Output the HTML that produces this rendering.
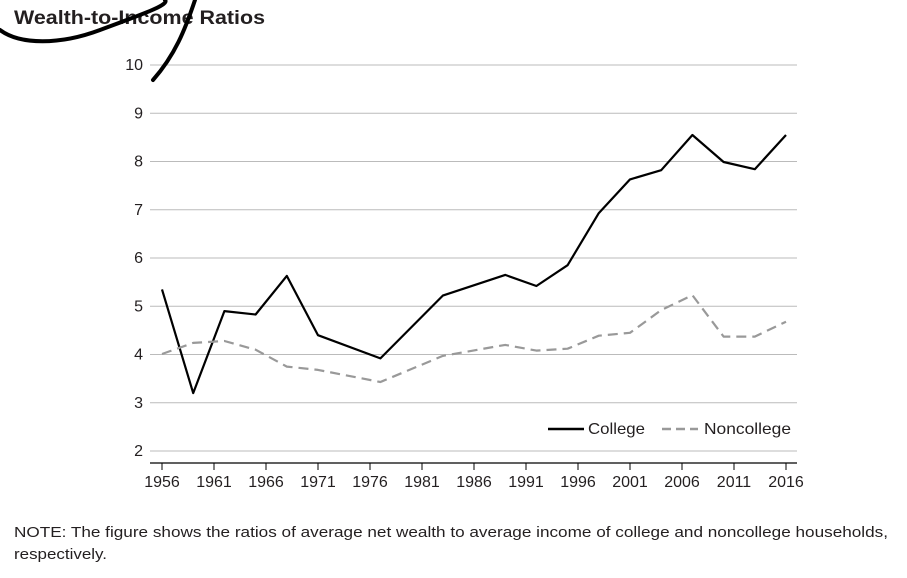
<!DOCTYPE html>
<html><head><meta charset="utf-8"><style>
body{margin:0;background:#fff;width:907px;height:578px;overflow:hidden;font-family:"Liberation Sans",sans-serif}
svg{position:absolute;left:0;top:0}
</style></head><body>
<svg width="907" height="578" id="c">
<text x="14" y="24" font-size="19" font-weight="bold" fill="#231f20" textLength="251" lengthAdjust="spacingAndGlyphs">Wealth-to-Income Ratios</text>
<g id="grid"></g><g id="axis"></g><g id="lines"></g>
<g>
<line x1="548" y1="429" x2="584" y2="429" stroke="#000" stroke-width="2.5"/>
<text x="588" y="434" font-size="16" fill="#231f20" textLength="57" lengthAdjust="spacingAndGlyphs">College</text>
<line x1="662" y1="429" x2="698" y2="429" stroke="#999" stroke-width="2.5" stroke-dasharray="9,5"/>
<text x="704" y="434" font-size="16" fill="#231f20" textLength="87" lengthAdjust="spacingAndGlyphs">Noncollege</text>
</g>
<text x="14" y="537" font-size="15" fill="#231f20" textLength="874" lengthAdjust="spacingAndGlyphs">NOTE: The figure shows the ratios of average net wealth to average income of college and noncollege households,</text>
<text x="14" y="559" font-size="15" fill="#231f20" textLength="93" lengthAdjust="spacingAndGlyphs">respectively.</text>
<path d="M0,30 C20,45 60,45 100,30 C140,15 170,5 165,0 M153,80 C175,55 185,30 195,0" stroke="#000" stroke-width="4" fill="none" stroke-linecap="round"/>
</svg>
<script>
const years=[1956,1959,1962,1965,1968,1971,1977,1983,1989,1992,1995,1998,2001,2004,2007,2010,2013,2016];
const college=[5.35,3.2,4.9,4.83,5.63,4.4,3.92,5.22,5.65,5.42,5.85,6.93,7.63,7.82,8.55,7.99,7.84,8.55];
const noncollege=[4.01,4.24,4.28,4.1,3.75,3.68,3.43,3.97,4.2,4.08,4.12,4.39,4.45,4.92,5.23,4.37,4.37,4.68];
const yTicks=[2,3,4,5,6,7,8,9,10];
const xTicks=[1956,1961,1966,1971,1976,1981,1986,1991,1996,2001,2006,2011,2016];
const NS="http://www.w3.org/2000/svg";
const xs=y=>162+(y-1956)*10.4;
const ys=v=>451-(v-2)*48.25;
function mk(tag,attrs,parent,text){const e=document.createElementNS(NS,tag);for(const k in attrs)e.setAttribute(k,attrs[k]);if(text!==undefined)e.textContent=text;document.getElementById(parent).appendChild(e);return e;}
yTicks.forEach(t=>{
 const l=mk('line',{x1:150,x2:797,y1:ys(t),y2:ys(t),stroke:'#bbb','stroke-width':1},'grid');
 
 
 const tx=mk('text',{x:143,y:ys(t)+5,'text-anchor':'end','font-size':16,fill:'#231f20'},'grid',t);
 
 
});
const ax=mk('line',{x1:150,x2:797,y1:463,y2:463,stroke:'#000','stroke-width':1.2},'axis');


xTicks.forEach(t=>{
 const l=mk('line',{x1:xs(t),x2:xs(t),y1:463,y2:470,stroke:'#000','stroke-width':1},'axis');
 
 
 const tx=mk('text',{x:xs(t),y:487,'text-anchor':'middle','font-size':16,fill:'#231f20'},'axis',t);
 
 
});
function pts(a){return years.map((y,i)=>xs(y).toFixed(1)+','+ys(a[i]).toFixed(1)).join(' ');}
const pc=mk('polyline',{points:pts(college),fill:'none',stroke:'#000','stroke-width':2.2,'stroke-linejoin':'round'},'lines');


const pn=mk('polyline',{points:pts(noncollege),fill:'none',stroke:'#999','stroke-width':2.2,'stroke-dasharray':'10,6','stroke-linejoin':'round'},'lines');


</script>
</body></html>
